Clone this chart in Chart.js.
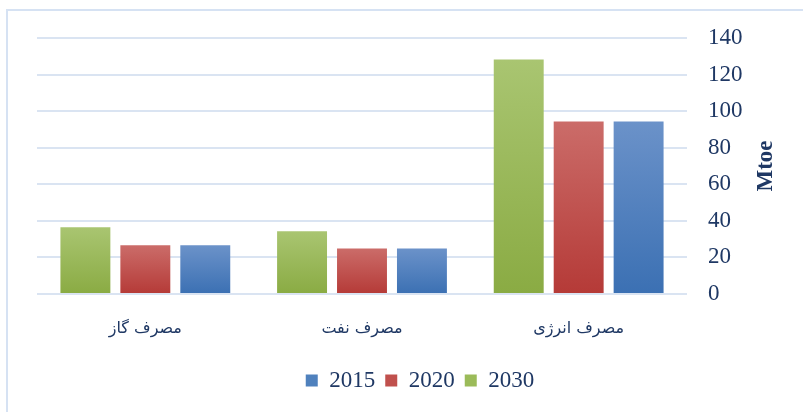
<!DOCTYPE html>
<html>
<head>
<meta charset="utf-8">
<script src="https://cdn.jsdelivr.net/npm/chart.js@4.4.0/dist/chart.umd.min.js"></script>
<style>
  html, body { margin: 0; padding: 0; background: #fff; }
  #wrap { width: 803px; height: 412px; position: relative; }
</style>
</head>
<body>
<div id="wrap"><canvas id="c"></canvas></div>
<script>
// categories as shown left to right
var categories = ['مصرف گاز', 'مصرف نفت', 'مصرف انرژی'];
var years = ['2030', '2020', '2015'];
var v2030 = [36.5, 34.3, 128.2];
var v2020 = [26.6, 24.9, 94.3];
var v2015 = [26.6, 24.9, 94.3];
var yTicks = [0, 20, 40, 60, 80, 100, 120, 140];
var yTitle = 'Mtoe';

var navy = '#1f3864';

// top / bottom / flat colors of each series
var shades = {
  '2030': ['#a9c571', '#8aab43', '#9bbb59'],
  '2020': ['#cb6c69', '#b53a37', '#c0504d'],
  '2015': ['#6b92c9', '#3b70b3', '#4f81bd']
};

function barFill(year) {
  return function (ctx) {
    var chart = ctx.chart;
    var y = chart.scales && chart.scales.y;
    if (!y || ctx.raw == null) return shades[year][2];
    var top = y.getPixelForValue(ctx.raw);
    var bottom = y.getPixelForValue(0);
    if (!isFinite(top) || !isFinite(bottom) || top === bottom) return shades[year][2];
    var g = chart.ctx.createLinearGradient(0, top, 0, bottom);
    g.addColorStop(0, shades[year][0]);
    g.addColorStop(1, shades[year][1]);
    return g;
  };
}

var frame = {
  id: 'frame',
  beforeDraw: function (chart) {
    var c = chart.ctx;
    c.save();
    c.fillStyle = '#fff';
    c.fillRect(0, 0, chart.width, chart.height);
    c.strokeStyle = '#d6e2f3';
    c.lineWidth = 2;
    c.strokeRect(7, 10, chart.width + 20, chart.height + 20);
    c.restore();
  },
  // axis title reads bottom-to-top on the right side
  afterDraw: function (chart) {
    var c = chart.ctx, a = chart.chartArea;
    c.save();
    c.translate(766, (a.top + a.bottom) / 2);
    c.rotate(-Math.PI / 2);
    c.fillStyle = navy;
    c.font = "bold 23px 'Liberation Serif', serif";
    c.textAlign = 'center';
    c.textBaseline = 'middle';
    c.fillText(yTitle, 0, 0);
    c.restore();
  }
};

var series = [v2030, v2020, v2015];

new Chart(document.getElementById('c'), {
  type: 'bar',
  data: {
    labels: categories,
    datasets: years.map(function (yr, i) {
      return {
        label: yr,
        data: series[i],
        backgroundColor: barFill(yr),
        borderWidth: 0,
        categoryPercentage: 0.83,
        barPercentage: 0.833
      };
    })
  },
  options: {
    responsive: true,
    maintainAspectRatio: false,
    animation: false,
    layout: { padding: { left: 37, top: 38, right: 0, bottom: 10 } },
    plugins: {
      legend: {
        position: 'bottom',
        reverse: true,
        labels: {
          color: navy,
          boxWidth: 12,
          boxHeight: 12,
          padding: 10,
          font: { family: "'Liberation Serif', serif", size: 23 },
          generateLabels: function (chart) {
            return chart.data.datasets.map(function (ds, i) {
              return {
                text: ds.label,
                fillStyle: shades[ds.label][2],
                strokeStyle: shades[ds.label][2],
                lineWidth: 0,
                fontColor: navy,
                datasetIndex: i,
                hidden: false
              };
            });
          }
        }
      },
      tooltip: { enabled: false }
    },
    scales: {
      x: {
        afterFit: function (s) { s.height = 65; },
        grid: { display: false },
        border: { display: false },
        ticks: {
          color: navy,
          padding: 17,
          font: { family: "'DejaVu Sans', sans-serif", size: 16 }
        }
      },
      y: {
        position: 'right',
        min: 0,
        max: 140,
        afterBuildTicks: function (s) {
          s.ticks = yTicks.map(function (v) { return { value: v }; });
        },
        afterFit: function (s) { s.width = 116; },
        grid: { color: '#dae4f2', lineWidth: 2, drawTicks: false },
        border: { display: false },
        ticks: {
          color: navy,
          padding: 21,
          font: { family: "'Liberation Serif', serif", size: 23 }
        }
      }
    }
  },
  plugins: [frame]
});
</script>
</body>
</html>
